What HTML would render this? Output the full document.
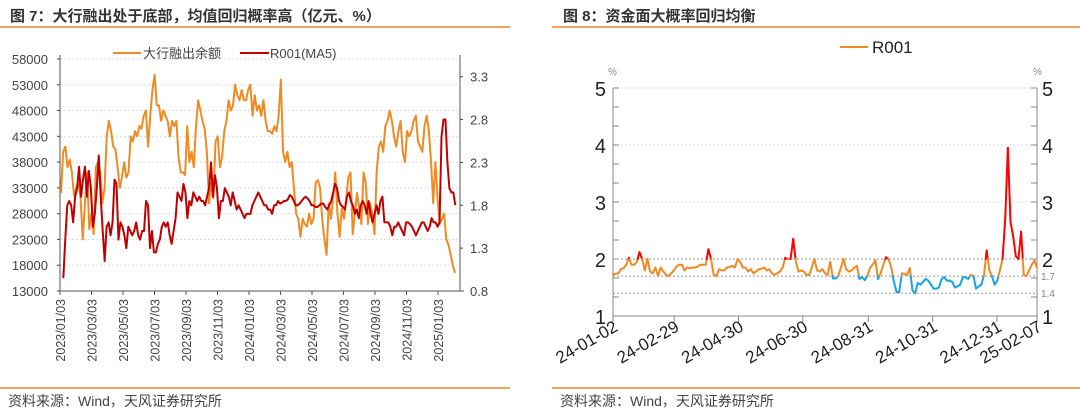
<!DOCTYPE html>
<html><head><meta charset="utf-8">
<style>
body{margin:0;width:1080px;height:411px;background:#fff;overflow:hidden;font-family:"Liberation Sans","Noto Sans CJK SC",sans-serif;}
.t{position:absolute;font-size:15px;font-weight:bold;color:#333;top:5px;}
.src{position:absolute;font-size:14px;color:#444;top:391px;}
.hl{position:absolute;height:2px;background:#f4a460;}
svg{position:absolute;left:0;top:0}
</style></head><body>
<div class="t" style="left:10px">图 7：大行融出处于底部，均值回归概率高（亿元、%）</div>
<div class="t" style="left:563px">图 8：资金面大概率回归均衡</div>
<div class="hl" style="left:0;width:510px;top:26px"></div>
<div class="hl" style="left:552px;width:528px;top:26px"></div>
<div class="hl" style="left:0;width:510px;top:387px"></div>
<div class="hl" style="left:552px;width:528px;top:387px"></div>
<div class="src" style="left:8px">资料来源：Wind，天风证券研究所</div>
<div class="src" style="left:560px">资料来源：Wind，天风证券研究所</div>
<svg id="chart" width="1080" height="411"></svg>
<script>
const leftTicks=[58000,53000,48000,43000,38000,33000,28000,23000,18000,13000];
const rightTicks=[3.3,2.8,2.3,1.8,1.3,0.8];
const dateLabels=["2023/01/03","2023/03/03","2023/05/03","2023/07/03","2023/09/03","2023/11/03","2024/01/03","2024/03/03","2024/05/03","2024/07/03","2024/09/03","2024/11/03","2025/01/03"];
const lendingBalance=[32000,40000,41000,37000,38500,36000,31500,33000,34000,31000,23000,30000,36000,25000,28000,24000,37000,38000,36000,30000,33000,43000,46000,44000,41000,40500,37000,33000,35000,38000,35000,36000,43000,42000,44000,43000,45000,44500,47000,48000,41000,47000,52000,55000,49000,49000,46000,48000,47000,46000,43000,46000,45000,46000,39000,36000,36000,35500,45000,38000,40000,37000,45000,50000,48000,46000,44500,40000,30000,34000,31000,42000,43000,37000,39000,44000,46000,50000,48000,49000,53000,51000,50000,52000,50000,50000,52000,53000,47000,51000,48000,49000,47000,50000,46000,44000,44000,43500,45000,44000,47000,54000,40000,38000,40000,37000,38000,33000,28000,27000,23500,27000,26000,25500,28000,26000,27000,34000,34500,33000,27000,23000,20000,30000,27000,31000,36000,28000,23500,29000,27000,31000,35000,36000,24000,28000,32000,29000,26000,36000,34000,26000,30000,28000,24000,36000,41000,42000,40000,45000,46000,48000,46000,43000,41000,44000,46000,40000,38000,44000,43000,44000,46000,47000,42000,41000,40000,45000,47000,44000,38000,30000,38000,31000,26000,27000,28000,23000,22000,20000,18000,16500];
const r001MA5=[0.95,1.4,1.8,1.85,1.8,1.6,1.9,2.0,2.25,1.9,2.1,2.25,1.9,2.2,2.0,1.55,1.7,2.0,2.38,1.9,1.5,1.15,1.55,1.6,1.45,1.6,2.1,2.05,1.4,1.6,1.55,1.45,1.3,1.55,1.5,1.45,1.5,1.6,1.45,1.4,1.5,1.5,1.85,1.8,1.3,1.5,1.25,1.25,1.35,1.4,1.55,1.6,1.55,1.6,1.45,1.35,1.5,1.65,1.95,1.9,1.85,2.05,1.95,1.65,1.85,1.8,1.95,1.9,1.85,1.9,1.85,1.85,1.8,1.9,2.0,2.3,1.9,2.15,2.0,1.65,1.85,1.85,2.0,1.95,1.9,1.8,1.95,1.85,1.75,1.8,1.75,1.7,1.65,1.7,1.7,1.7,1.8,1.85,1.9,1.95,1.9,1.85,1.8,1.8,1.75,1.75,1.7,1.8,1.8,1.85,1.82,1.83,1.85,1.85,1.87,1.92,1.9,1.85,1.8,1.8,1.82,1.85,1.88,1.9,1.88,1.85,1.8,1.8,1.78,1.78,1.8,1.82,1.82,1.78,1.75,1.8,1.85,1.95,2.05,2.0,1.85,1.8,1.78,1.75,1.9,1.95,1.85,1.8,1.7,1.75,1.65,1.8,1.85,1.8,1.7,1.85,1.7,1.6,1.7,1.8,1.7,1.85,1.9,1.6,1.6,1.6,1.55,1.45,1.55,1.55,1.6,1.55,1.5,1.45,1.6,1.6,1.58,1.55,1.5,1.45,1.5,1.55,1.6,1.6,1.55,1.5,1.55,1.65,1.6,1.6,1.55,1.6,2.6,2.8,2.8,2.3,2.0,1.95,1.95,1.8];
const r001Labels=["24-01-02","24-02-29","24-04-30","24-06-30","24-08-31","24-10-31","24-12-31","25-02-07"];
const r001Ticks=[5,4,3,2,1];
const r001Refs=[2,1.7,1.4];
const r001=[1.73,1.74,1.75,1.82,1.84,1.9,2.02,1.9,1.9,1.95,2.12,2.0,1.8,2.0,1.78,1.75,1.85,1.7,1.85,1.78,1.72,1.7,1.75,1.8,1.87,1.9,1.9,1.8,1.85,1.84,1.85,1.85,1.87,1.9,1.9,1.9,2.17,2.0,1.72,1.7,1.82,1.8,1.8,1.85,1.86,1.88,1.85,2.0,1.95,1.85,1.85,1.78,1.82,1.75,1.78,1.82,1.83,1.85,1.8,1.82,1.75,1.72,1.75,1.78,1.85,2.02,2.0,2.0,2.35,1.95,1.78,1.8,1.78,1.72,1.72,1.85,2.0,1.8,1.78,1.82,1.75,1.72,1.95,1.66,1.66,1.7,1.85,2.0,1.82,1.78,1.8,1.85,1.88,1.65,1.68,1.63,1.7,1.85,1.9,1.98,1.65,1.75,1.9,2.03,2.0,1.85,1.6,1.42,1.42,1.75,1.74,1.72,1.84,1.45,1.4,1.58,1.55,1.6,1.65,1.62,1.55,1.48,1.48,1.5,1.65,1.68,1.62,1.62,1.6,1.5,1.52,1.55,1.68,1.68,1.65,1.72,1.7,1.48,1.52,1.55,1.72,2.15,1.8,1.7,1.55,1.62,1.8,2.0,2.7,3.95,2.65,2.4,2.05,2.0,2.48,1.72,1.7,1.8,1.9,1.97,1.85];

const svg=document.getElementById('chart');
const NS='http://www.w3.org/2000/svg';
function mk(tag,attrs,parent){const e=document.createElementNS(NS,tag);for(const k in attrs)e.setAttribute(k,attrs[k]);(parent||svg).appendChild(e);return e;}
function txt(s,attrs){const e=mk('text',attrs);e.textContent=s;return e;}

const L={x0:60,x1:460,yTop:59,yBot:291};
const yL=v=>L.yBot-(v-13000)/45000*(L.yBot-L.yTop);
const yR=v=>291-(v-0.8)/2.5*(291-76.7);
const xDate=i=>L.x0+i*31.5;
leftTicks.forEach(v=>{
  if(v>13000){const g=mk('line',{x1:L.x0,x2:L.x1,y1:yL(v),y2:yL(v),stroke:'#ddd','stroke-dasharray':'2,2'});
  }
  const t=txt(v,{x:48,y:yL(v)+5,'text-anchor':'end','font-size':13,fill:'#444'});
  
  mk('line',{x1:L.x0-3,x2:L.x0,y1:yL(v),y2:yL(v),stroke:'#444'});
});
rightTicks.forEach(v=>{
  const t=txt(v.toFixed(1),{x:470,y:yR(v)+5,'font-size':13,fill:'#444'});
  
  mk('line',{x1:L.x1,x2:L.x1+3,y1:yR(v),y2:yR(v),stroke:'#444'});
});
mk('line',{x1:L.x0,x2:L.x0,y1:L.yTop-4,y2:L.yBot,stroke:'#555'});
mk('line',{x1:L.x1,x2:L.x1,y1:L.yTop-4,y2:L.yBot,stroke:'#555'});
mk('line',{x1:L.x0,x2:L.x1+4,y1:L.yBot,y2:L.yBot,stroke:'#555'});
dateLabels.forEach((d,i)=>{
  const x=xDate(i);
  mk('line',{x1:x,x2:x,y1:L.yBot,y2:L.yBot+4,stroke:'#555'});
  const t=txt(d,{x:0,y:0,transform:`translate(${x+5},${L.yBot+8}) rotate(-90)`,'text-anchor':'end','font-size':12.5,fill:'#444'});
  
});
function poly(vals,xs,xe,yf,color,name,w){
  const pts=vals.map((v,i)=>[xs+i*(xe-xs)/(vals.length-1),yf(v)]);
  const p=mk('polyline',{points:pts.map(p=>p.join(',')).join(' '),fill:'none',stroke:color,'stroke-width':w,'stroke-linejoin':'round'});
  
}
poly(lendingBalance,61,455,yL,'#f08a24','lending-balance-line',2);
poly(r001MA5,63.3,455.3,yR,'#c00000','r001-ma5-line',2);
mk('line',{x1:113,x2:141,y1:53,y2:53,stroke:'#f08a24','stroke-width':2});
txt('大行融出余额',{x:143,y:58,'font-size':13,fill:'#444'});
mk('line',{x1:240,x2:269,y1:53,y2:53,stroke:'#c00000','stroke-width':2});
txt('R001(MA5)',{x:270,y:58,'font-size':13,fill:'#444'});

const R={x0:613,x1:1037,yTop:88,yBot:316};
const yP=v=>R.yBot-(v-1)/4*(R.yBot-R.yTop);
r001Ticks.forEach(v=>{
  if(v>1){const g=mk('line',{x1:R.x0,x2:R.x1,y1:yP(v),y2:yP(v),stroke:'#ddd','stroke-dasharray':'2,2'});
  }
  const a=txt(v,{x:606,y:yP(v)+8,'text-anchor':'end','font-size':20,fill:'#222'});
  
  const b=txt(v,{x:1042,y:yP(v)+8,'font-size':20,fill:'#222'});
  
});
for(let k=0;k<=12;k++){const y=R.yBot-k*(R.yBot-R.yTop)/12;
  mk('line',{x1:R.x0,x2:R.x0+6,y1:y,y2:y,stroke:'#888'});mk('line',{x1:R.x1-6,x2:R.x1,y1:y,y2:y,stroke:'#888'});}
r001Refs.forEach(v=>{
  const g=mk('line',{x1:R.x0,x2:R.x1,y1:yP(v),y2:yP(v),stroke:'#999','stroke-dasharray':'2,2'});
  
  if(v<2){const t=txt(v,{x:1041,y:yP(v)+4,'font-size':10,fill:'#888'});}
});
mk('line',{x1:R.x0,x2:R.x0,y1:R.yTop,y2:R.yBot,stroke:'#888'});
mk('line',{x1:R.x1,x2:R.x1,y1:R.yTop,y2:R.yBot,stroke:'#888'});
mk('line',{x1:R.x0,x2:R.x1,y1:R.yBot,y2:R.yBot,stroke:'#888'});
txt('%',{x:608,y:75,'font-size':10,fill:'#888'});
txt('%',{x:1033,y:75,'font-size':10,fill:'#888'});
const toDay=s=>{const p=s.split('-');return Date.UTC(2000+ +p[0],+p[1]-1,+p[2])/86400000;};
const dStart=toDay(r001Labels[0]),dEnd=toDay(r001Labels[r001Labels.length-1]);
const xDay=s=>R.x0+(toDay(s)-dStart)/(dEnd-dStart)*(R.x1-R.x0);
r001Labels.forEach((d,i)=>{
  const x=xDay(d);
  mk('line',{x1:x,x2:x,y1:R.yBot,y2:R.yBot+6,stroke:'#888'});
  const t=txt(d,{x:0,y:0,transform:`translate(${x+6},${R.yBot+14}) rotate(-30)`,'text-anchor':'end','font-size':17,fill:'#222'});
  
});
const colorOf=v=>v>2?'#ff0000':(v<1.7?'#1aa3e8':'#f08a24');
const xr=i=>R.x0+i*(R.x1-R.x0)/(r001.length-1);
for(let i=0;i<r001.length-1;i++){
  const a=r001[i],b=r001[i+1];const cuts=[0,1];
  [2,1.7].forEach(th=>{if((a-th)*(b-th)<0)cuts.push((th-a)/(b-a));});
  cuts.sort((p,q)=>p-q);
  for(let k=0;k<cuts.length-1;k++){
    const t0=cuts[k],t1=cuts[k+1],tm=(t0+t1)/2;
    const seg=mk('line',{x1:xr(i+t0),x2:xr(i+t1),y1:yP(a+(b-a)*t0),y2:yP(a+(b-a)*t1),stroke:colorOf(a+(b-a)*tm),'stroke-width':2,'stroke-linecap':'round'});
    
    
  }
}
mk('line',{x1:840,x2:868,y1:47,y2:47,stroke:'#f08a24','stroke-width':2});
txt('R001',{x:872,y:53,'font-size':17,fill:'#222'});
</script>
</body></html>
